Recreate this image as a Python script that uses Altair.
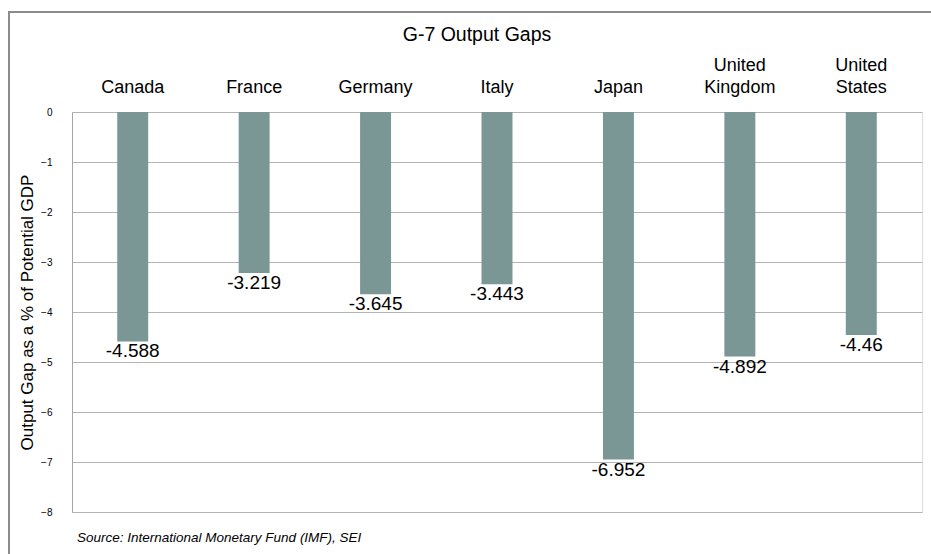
import altair as alt
import pandas as pd

countries = ["Canada", "France", "Germany", "Italy", "Japan", "United Kingdom", "United States"]
gaps = [-4.588, -3.219, -3.645, -3.443, -6.952, -4.892, -4.46]
labels = ["-4.588", "-3.219", "-3.645", "-3.443", "-6.952", "-4.892", "-4.46"]
y_ticks = [0, -1, -2, -3, -4, -5, -6, -7, -8]
chart_title = ["G-7 Output Gaps"]
source_note = ["Source: International Monetary Fund (IMF), SEI"]

df = pd.DataFrame({"country": countries, "gap": gaps, "label": labels})
FONT = "Liberation Sans"

x_enc = alt.X(
    "country:N",
    sort=countries,
    scale=alt.Scale(paddingInner=0.745, paddingOuter=0.3725),
    axis=alt.Axis(
        orient="top",
        title=None,
        ticks=False,
        domain=False,
        labelAngle=0,
        labelFontSize=18,
        labelFont=FONT,
        labelColor="#000000",
        labelPadding=38,
        labelLineHeight=22,
        labelExpr="length(split(datum.label, ' ')) > 1 ? split(datum.label, ' ') : ['', datum.label]",
    ),
)
y_enc = alt.Y(
    "gap:Q",
    scale=alt.Scale(domain=[-8, 0], nice=False),
    axis=alt.Axis(
        values=y_ticks,
        format="d",
        title="Output Gap as a % of Potential GDP",
        titleFont=FONT,
        titleFontSize=17,
        titleFontWeight="normal",
        titleColor="#000000",
        titlePadding=4,
        labelFont=FONT,
        labelFontSize=10,
        labelColor="#000000",
        labelPadding=20,
        ticks=False,
        domain=True,
        domainColor="#a6a6a6",
        gridColor="#b3b3b3",
        gridWidth=1,
    ),
)

bars = alt.Chart(df).mark_bar(color="#7a9796").encode(x=x_enc, y=y_enc)
text = alt.Chart(df).mark_text(
    baseline="alphabetic", dy=16, fontSize=19, font=FONT, color="#000000"
).encode(x=alt.X("country:N", sort=countries), y="gap:Q", text="label:N")

ttl = alt.Chart(pd.DataFrame({"t": chart_title})).mark_text(
    align="center", baseline="alphabetic", fontSize=19.5, font=FONT, color="#000000"
).encode(x=alt.value(405), y=alt.value(-71), text="t:N")

src = alt.Chart(pd.DataFrame({"t": source_note})).mark_text(
    align="left", baseline="alphabetic", fontSize=13.5, font=FONT, fontStyle="italic", color="#000000"
).encode(x=alt.value(5), y=alt.value(430), text="t:N")

frame = alt.Chart(pd.DataFrame({"t": source_note})).mark_rect(
    fill=None, stroke="#8c8c8c", strokeWidth=2
).encode(x=alt.value(-63), x2=alt.value(900), y=alt.value(-100), y2=alt.value(500))

chart = alt.layer(frame, bars, text, ttl, src).properties(
    width=850,
    height=400,
    autosize=alt.AutoSizeParams(type="none"),
    padding={"left": 72, "top": 112, "right": 9, "bottom": 42},
).configure_view(stroke=None).configure(background="#ffffff")

chart.save("out.html", embed_options={"renderer": "svg", "actions": False})
